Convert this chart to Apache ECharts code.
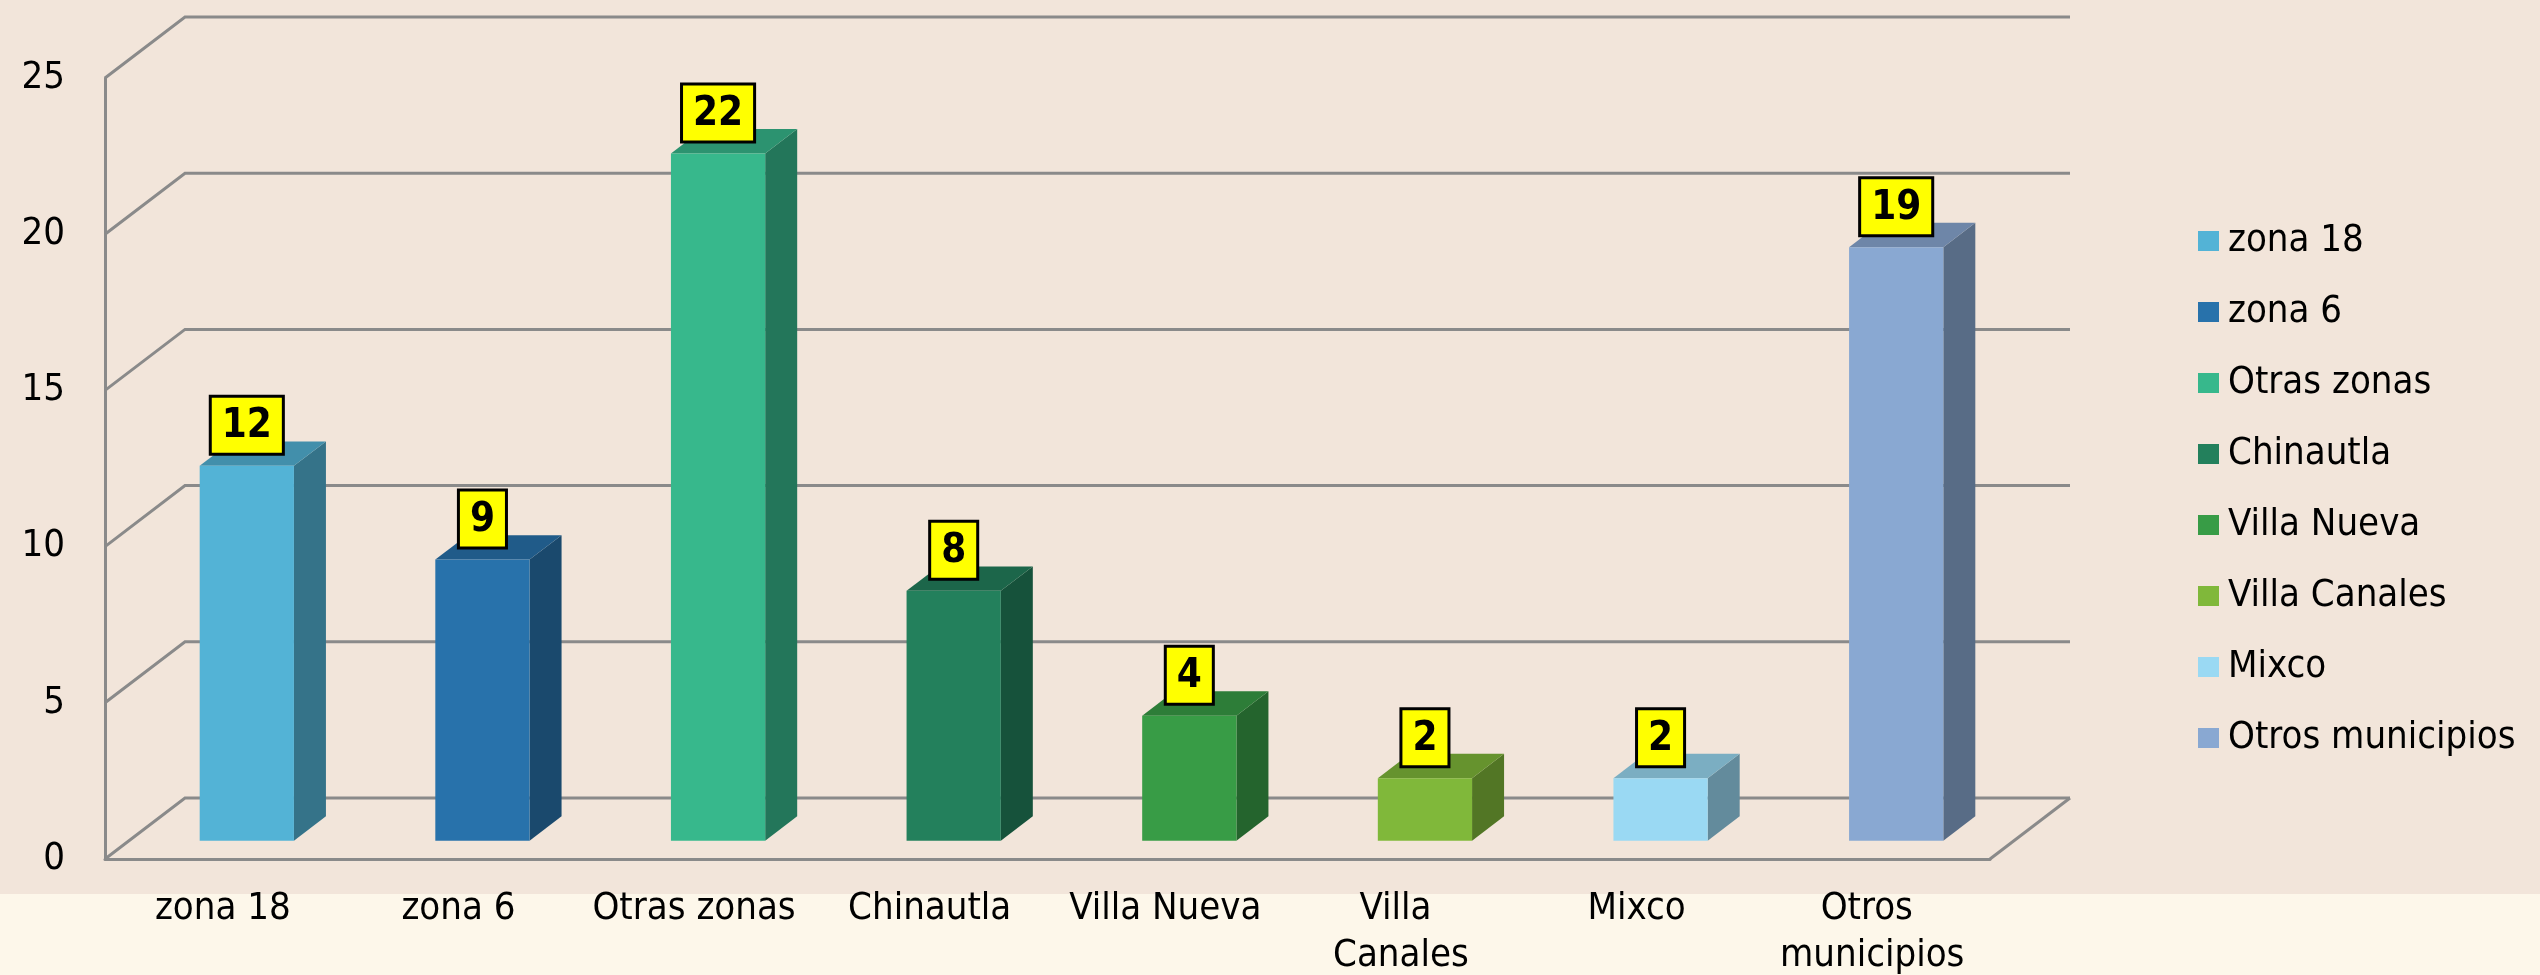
<!DOCTYPE html>
<html>
<head>
<meta charset="utf-8">
<script src="https://cdn.jsdelivr.net/npm/echarts@6/dist/echarts.min.js"></script>
<style>
  html, body { margin: 0; padding: 0; }
  #chart {
    width: 2540px;
    height: 975px;
    background: linear-gradient(#f2e5da 0, #f2e5da 894px, #fdf7ea 894px);
  }
</style>
</head>
<body>
<div id="chart"></div>
<script>
const categories = ['zona 18', 'zona 6', 'Otras zonas', 'Chinautla', 'Villa Nueva', 'Villa Canales', 'Mixco', 'Otros municipios'];
const values = [12, 9, 22, 8, 4, 2, 2, 19];
const colors = ['#53b3d6', '#2872ab', '#37b88c', '#23805c', '#389c46', '#80b83a', '#9ad9f3', '#89a8d2'];
const yTicks = [0, 5, 10, 15, 20, 25];

const FONT = '"DejaVu Sans Condensed", "DejaVu Sans", sans-serif';
const LINE = '#8a8a8a';
// depth of the 3d box (back wall offset)
const DX = 80, DY = -61;

// darken a hex colour by factor f (0..1)
function shade(hex, f) {
  const c = echarts.color.parse(hex);
  return 'rgb(' + [0, 1, 2].map(k => Math.round(c[k] * f)).join(',') + ')';
}

const chart = echarts.init(document.getElementById('chart'), null, { renderer: 'canvas' });

function renderWall(params, api) {
  const t = api.value(1);
  const cs = params.coordSys;
  const x0 = cs.x, x1 = cs.x + cs.width;
  const y = api.coord([0, t])[1];
  const style = { stroke: LINE, lineWidth: 3, fill: null };
  const children = [
    { type: 'polyline', shape: { points: [[x0, y], [x0 + DX, y + DY], [x1 + DX, y + DY]] }, style }
  ];
  if (t === 0) {
    children.push({ type: 'line', shape: { x1: x1, y1: y, x2: x1 + DX, y2: y + DY }, style });
  }
  return { type: 'group', children };
}

function renderBar(params, api) {
  const i = api.value(0);
  const v = api.value(1);
  const color = colors[i];
  const top = api.coord([i, v]);
  const base = api.coord([i, 0]);
  const band = api.size([1, 0])[0];
  const w = band * 0.4;
  // bar sits in the middle of the depth
  const sx = DX * 0.3, sy = DY * 0.3;
  const bx = DX * 0.4, by = DY * 0.4;
  const xl = top[0] - w / 2 + sx;
  const xr = xl + w;
  const yt = top[1] + sy;
  const yb = base[1] + sy;
  return {
    type: 'group',
    children: [
      {
        type: 'polygon',
        shape: { points: [[xr, yt], [xr + bx, yt + by], [xr + bx, yb + by], [xr, yb]] },
        style: { fill: shade(color, 0.64) }
      },
      {
        type: 'polygon',
        shape: { points: [[xl, yt], [xl + bx, yt + by], [xr + bx, yt + by], [xr, yt]] },
        style: { fill: shade(color, 0.8) }
      },
      {
        type: 'rect',
        shape: { x: xl, y: yt, width: w, height: yb - yt },
        style: { fill: color },
        textContent: {
          style: {
            text: String(v),
            fill: '#000',
            font: 'bold 40px ' + FONT,
            backgroundColor: '#ffff00',
            borderColor: '#000',
            borderWidth: 3,
            padding: [9, 10, 6, 10]
          }
        },
        textConfig: { position: 'top', distance: 13 }
      }
    ]
  };
}

const barSeries = categories.map((name, i) => ({
  name: name,
  type: 'custom',
  coordinateSystem: 'cartesian2d',
  itemStyle: { color: colors[i] },
  renderItem: renderBar,
  data: [[i, values[i]]],
  z: 3
}));

const options = {
  animation: false,
  textStyle: { fontFamily: FONT },
  legend: {
    data: categories,
    orient: 'vertical',
    left: 2193,
    top: 216,
    icon: 'rect',
    itemWidth: 21,
    itemHeight: 20,
    itemGap: 31,
    textStyle: { fontSize: 38, color: '#000', fontFamily: FONT, lineHeight: 40, padding: [0, 0, 0, 4] }
  },
  grid: {
    left: 105,
    right: 550,
    top: 78,
    bottom: 116,
    containLabel: false,
    outerBoundsMode: 'none'
  },
  xAxis: {
    type: 'category',
    data: categories,
    axisLine: { show: true, lineStyle: { color: LINE, width: 3 } },
    axisTick: { show: false },
    axisLabel: {
      interval: 0,
      color: '#000',
      fontSize: 38,
      lineHeight: 47,
      margin: 27,
      width: 212,
      overflow: 'break'
    },
    splitLine: { show: false }
  },
  yAxis: {
    type: 'value',
    min: 0,
    max: 25,
    interval: 5,
    axisLine: { show: true, lineStyle: { color: LINE, width: 3 } },
    axisTick: { show: false },
    axisLabel: { color: '#000', fontSize: 38, margin: 40 },
    splitLine: { show: false }
  },
  series: [
    {
      name: 'walls',
      type: 'custom',
      coordinateSystem: 'cartesian2d',
      renderItem: renderWall,
      data: yTicks.map(t => [0, t]),
      silent: true,
      z: 1
    }
  ].concat(barSeries)
};

chart.setOption(options);
</script>
</body>
</html>
